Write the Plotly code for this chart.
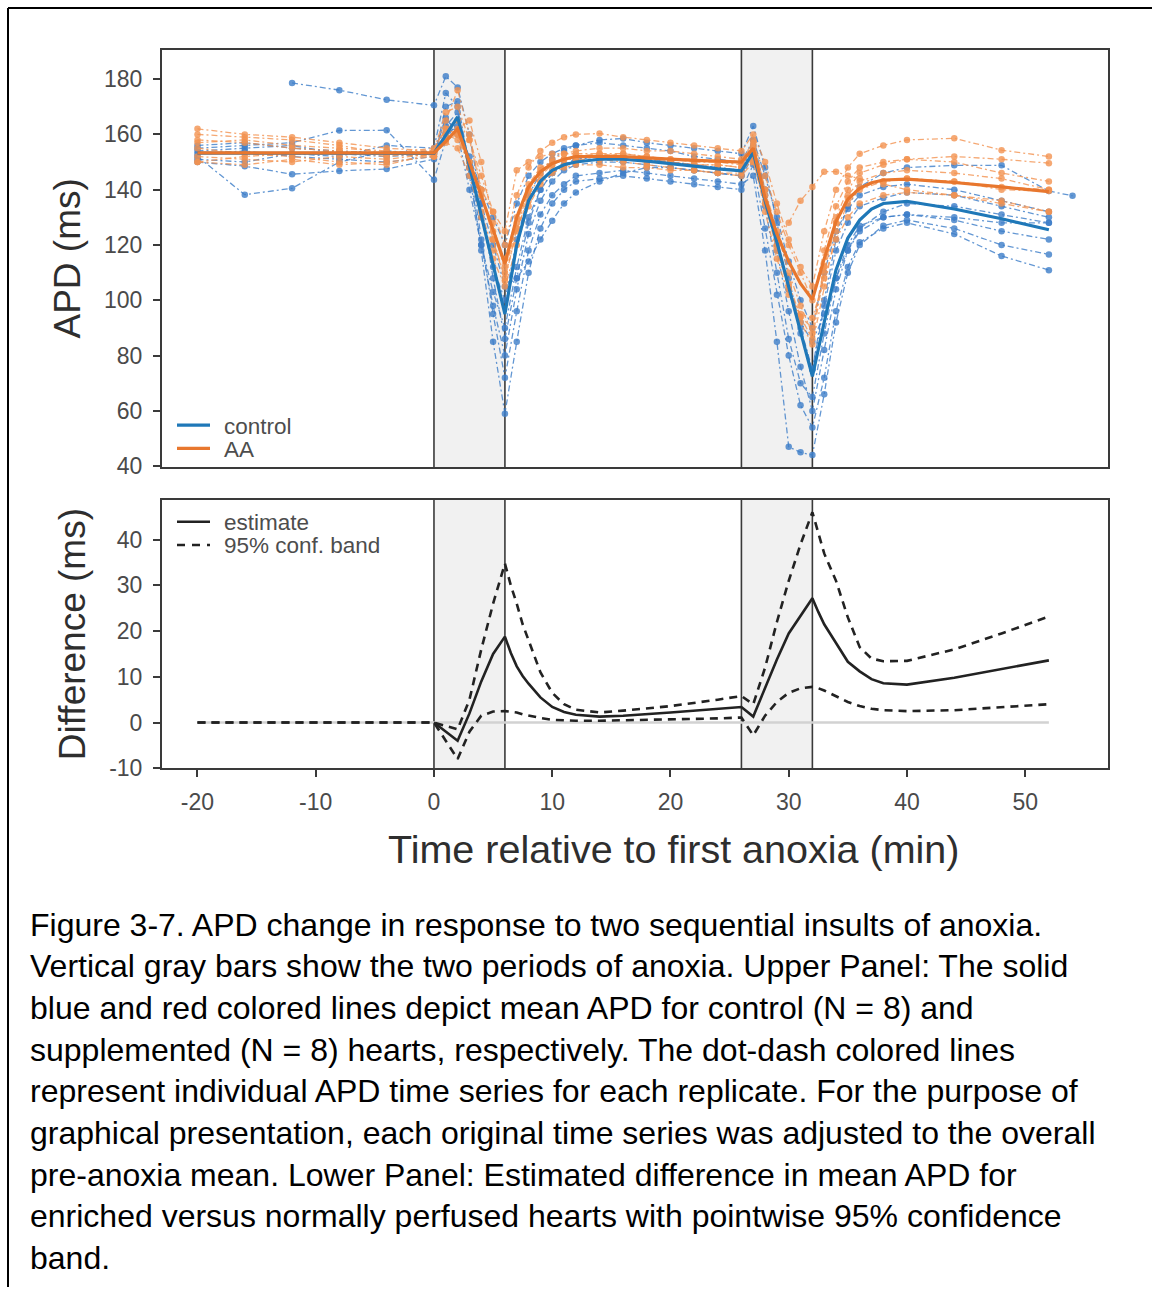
import plotly.graph_objects as go

# ---------------- data ----------------
# individual replicate time grid (min)
t_ind = [-20, -16, -12, -8, -4, 0, 1, 2, 3, 4, 5, 6, 7, 8, 9, 10, 11, 12,
         14, 16, 18, 20, 22, 24, 26, 27, 28, 29, 30, 31, 32,
         33, 34, 35, 36, 38, 40, 44, 48, 52, 54]

ctrl_1 = [None, None, 178.6, 176.0, 172.5, 170.5, 181, 177, 160, 135, 108, 86, 108, 128, 140, 146, 149, 151,
          152, 152, 151, 150, 149, 148, 147, 158, 140, 118, 96, 76, 60, 82, 104, 118, 126, 132, 135, 134, 131, 128, None]
ctrl_2 = [152, 138.2, 140.5, 150, 154, 153, 163, 168, 150, 122, 95, 72, 96, 118, 131, 138, 142, 145,
          146, 147, 146, 145, 144, 143, 142, 145, 118, 85, 47, 45, 44, 66, 92, 110, 120, 127, 129, 126, 120, 116.6, None]
ctrl_3 = [150, 148.5, 145.6, 146.8, 147.5, 151, 170, 172, 148, 118, 85, 59, 85, 110, 126, 135, 140, 143,
          144, 145, 144, 143, 142, 141, 140, 149, 126, 102, 80, 62, 54, 72, 96, 112, 121, 126, 128, 124, 116, 110.9, None]
ctrl_4 = [155, 156, 157, 161.4, 161.5, 143.6, 158, 165, 148, 130, 112, 100, 122, 138, 146, 151, 154, 156,
          158, 158.5, 157, 156, 155, 154, 153, 163, 148, 128, 108, 90, 75, 100, 122, 134, 141, 146, 148, 148.8, 148.8, 139.5, 137.8]
ctrl_5 = [153, 154, 152, 151, 150, 152, 160, 163, 150, 135, 120, 105, 108, 114, 122, 128.8, 135, 139,
          143, 146, 148, 148, 147, 146, 145, 152, 138, 120, 104, 92, 85, 95, 108, 118, 125, 130, 131, 130, 128, 128, None]
ctrl_6 = [156, 157, 155, 154, 153, 154, 165, 162, 152, 140, 130, 120, 135, 145, 150, 153, 155, 156,
          157, 156, 155, 154, 152, 151, 150, 158, 145, 130, 114, 100, 90, 110, 125, 133, 138, 141, 142, 140, 136, 132, None]
ctrl_7 = [151, 150, 153, 152, 156, 155, 175, 170, 145, 120, 98, 80, 104, 124, 136, 143, 147, 149,
          150, 150, 149, 148, 147, 146, 145, 155, 134, 110, 86, 70, 65, 88, 108, 120, 127, 130, 131, 129, 125, 122, None]
ctrl_8 = [154, 155, 156, 153, 152, 153, 166, 160, 140, 120, 103, 90, 112, 130, 140, 146, 149, 151,
          152, 152, 151, 150, 149, 148, 147, 156, 140, 122, 104, 88, 75, 98, 118, 128, 134, 137, 139, 138, 134, 130, None]

aa_1 = [162, 160, 159, 157, 155, 154, 162, 165, 158, 145, 132, 120, 138, 148, 154, 157, 159, 160,
        160.3, 159, 158, 157, 156, 155, 154, 160, 150, 135, 122, 112, 105, 125, 140, 148, 153, 156, 158, 158.6, 154.3, 152, None]
aa_2 = [157, 158, 156, 155, 154, 152, 158, 162, 165, 150, 128, 110, 128, 140, 146, 149, 151, 152,
        153, 153, 152, 151, 151, 150, 150, 156, 140, 125, 110, 98, 88, 112, 130, 140, 146, 149, 151, 152, 151, 149.6, None]
aa_3 = [150, 152, 153, 154, 153, 152, 160, 158, 150, 140, 132, 125, 147, 150, 152, 153, 153, 153,
        153, 152, 151, 150, 149, 149, 148, 150, 135, 122, 128, 136, 141, 146.5, 146.5, 145, 144, 142, 140, 138, 136, 132, None]
aa_4 = [155, 153, 152, 150, 149, 153, 165, 176, 160, 140, 122, 108, 125, 138, 145, 149, 151, 152,
        152, 153, 152, 151, 150, 150, 149, 158, 140, 122, 106, 94, 86, 110, 128, 138, 143, 146, 147, 146, 144, 140, None]
aa_5 = [160, 159, 158, 156, 153, 155, 162, 160, 150, 138, 125, 112, 126, 136, 143, 147, 149, 150,
        151, 151, 150, 150, 149, 149, 148, 155, 138, 120, 105, 92, 84, 105, 125, 135, 140, 143, 144, 143, 140, 139.5, None]
aa_6 = [152, 151, 150, 152, 151, 153, 157, 155, 145, 130, 115, 105, 120, 134, 142, 146, 148, 149,
        149, 148, 148, 147, 147, 146, 146, 152, 132, 115, 102, 95, 93.6, 108, 122, 130, 135, 138, 139, 138, 135, 132, None]
aa_7 = [158, 157, 155, 154, 152, 154, 168, 170, 158, 140, 122, 107, 126, 140, 147, 151, 153, 154,
        155, 155, 154, 154, 153, 152, 151, 157, 145, 132, 120, 110, 100, 118, 134, 143, 148, 150, 151, 150, 146, 143, None]
aa_8 = [150, 149, 151, 149, 150, 152, 158, 160, 148, 132, 118, 115, 130, 142, 148, 150, 151, 151,
        151, 150, 149, 148, 147, 146, 145, 150, 135, 118, 104, 94, 90, 112, 128, 137, 141, 143, 144, 143, 141, 140, None]

control_series = [ctrl_1, ctrl_2, ctrl_3, ctrl_4, ctrl_5, ctrl_6, ctrl_7, ctrl_8]
aa_series = [aa_1, aa_2, aa_3, aa_4, aa_5, aa_6, aa_7, aa_8]

# mean APD curves
t_mean = [-20, -16, -12, -8, -4, 0, 1, 2, 3, 4, 5, 6, 7, 8, 9, 10, 11, 12,
          14, 16, 18, 20, 22, 24, 26, 27, 28, 29, 30, 31, 32,
          33, 34, 35, 36, 37, 38, 40, 42, 44, 48, 52]
ctrl_mean = [153.2, 153.2, 153.2, 153.1, 153.1, 153.1, 159.7, 166.3, 148.5, 130.7, 112.9, 95,
             120, 136, 143, 147, 149, 150,
             151, 151, 150.3, 149.5, 148.5, 147.5, 146.8, 153.5, 136, 121, 105, 89, 72.5,
             92, 111, 122.5, 129, 133, 135, 135.8, 134.5, 133, 129.5, 125.5]
aa_mean = [153.3, 153.3, 153.3, 153.3, 153.3, 153.3, 157.5, 162, 150, 138, 125.5, 113.2,
           130, 141, 146.5, 149.5, 151, 152,
           152, 152, 151.5, 151, 150.6, 150.3, 150, 155, 137, 124, 114, 106, 100.3,
           115, 128.5, 136.5, 140.5, 142.5, 143.5, 143.8, 143.2, 142.6, 141, 139.3]

# difference (AA - control) with pointwise 95% band
t_diff = [-20, -16, -12, -8, -4, 0, 2, 3, 4, 5, 6, 6.5, 7, 7.5, 8, 9, 10, 11, 12,
          14, 16, 20, 24, 26, 27, 28, 29, 30, 31, 32,
          32.5, 33, 34, 35, 36, 37, 38, 40, 44, 48, 52]
diff_est = [None, None, None, None, None, 0, -4, 2, 9, 15, 18.8, 15.2, 12.3, 10.2, 8.5, 5.5, 3.4, 2.3, 1.7,
            1.3, 1.5, 2.2, 3, 3.4, 1.3, 7.5, 13.8, 19.5, 23.5, 27.2,
            24.2, 21.5, 17.4, 13.3, 11.2, 9.5, 8.6, 8.3, 9.8, 11.7, 13.6]
diff_upper = [0, 0, 0, 0, 0, 0, -1.5, 5, 16, 26, 34.8, 30, 26, 21.5, 18, 11, 6.5, 4, 2.8,
              2.2, 2.6, 3.6, 5, 5.8, 4, 12, 22, 31, 39, 46,
              41.5, 37, 31, 23, 16.5, 14, 13.4, 13.5, 16, 19.5, 23.2]
diff_lower = [0, 0, 0, 0, 0, 0, -8, -2, 1.5, 2.4, 2.5, 2.4, 2.2, 1.8, 1.5, 1, 0.6, 0.5, 0.4,
              0.4, 0.5, 0.6, 0.9, 1.1, -2.8, 1.5, 4.5, 6.5, 7.5, 7.8,
              7.5, 7, 5.8, 4.5, 3.6, 3, 2.7, 2.5, 2.7, 3.3, 4]

anoxia_start = [0, 26]
anoxia_end = [6, 32]

x_ticks = [-20, -10, 0, 10, 20, 30, 40, 50]
x_tick_labels = ["-20", "-10", "0", "10", "20", "30", "40", "50"]
apd_ticks = [40, 60, 80, 100, 120, 140, 160, 180]
diff_ticks = [-10, 0, 10, 20, 30, 40]
diff_tick_labels = ["-10", "0", "10", "20", "30", "40"]

caption_lines = [
    "Figure 3-7. APD change in response to two sequential insults of anoxia.",
    "Vertical gray bars show the two periods of anoxia. Upper Panel: The solid",
    "blue and red colored lines depict mean APD for control (N = 8) and",
    "supplemented (N = 8) hearts, respectively. The dot-dash colored lines",
    "represent individual APD time series for each replicate. For the purpose of",
    "graphical presentation, each original time series was adjusted to the overall",
    "pre-anoxia mean. Lower Panel: Estimated difference in mean APD for",
    "enriched versus normally perfused hearts with pointwise 95% confidence",
    "band.",
]

for s in control_series + aa_series:
    assert len(s) == len(t_ind)
assert len(ctrl_mean) == len(t_mean) and len(aa_mean) == len(t_mean)
assert len(diff_est) == len(t_diff) == len(diff_upper) == len(diff_lower)

# ---------------- styling ----------------
FONT = "Liberation Sans, Arial, Helvetica, sans-serif"
W, H = 1152, 1300
BLUE = "#1f78b8"
ORANGE = "#e8772e"
BLUE_I = "rgba(60,125,200,0.80)"
ORANGE_I = "rgba(242,146,80,0.80)"
FRAME = "#3a3a3a"
DARK = "#222222"


def px(xp):
    return xp / W


def py(yp):
    return 1 - yp / H


fig = go.Figure()

# individual replicates
for s in control_series:
    fig.add_trace(go.Scatter(x=t_ind, y=s, mode="lines+markers", xaxis="x", yaxis="y",
                             line=dict(color=BLUE_I, width=1.3, dash="6px,3px,2px,3px"),
                             marker=dict(size=6.5, color=BLUE_I), showlegend=False,
                             connectgaps=False, hoverinfo="skip"))
for s in aa_series:
    fig.add_trace(go.Scatter(x=t_ind, y=s, mode="lines+markers", xaxis="x", yaxis="y",
                             line=dict(color=ORANGE_I, width=1.3, dash="6px,3px,2px,3px"),
                             marker=dict(size=6.5, color=ORANGE_I), showlegend=False,
                             connectgaps=False, hoverinfo="skip"))

# means
fig.add_trace(go.Scatter(x=t_mean, y=ctrl_mean, mode="lines", name="control", xaxis="x", yaxis="y",
                         line=dict(color=BLUE, width=3.2), showlegend=False))
fig.add_trace(go.Scatter(x=t_mean, y=aa_mean, mode="lines", name="AA", xaxis="x", yaxis="y",
                         line=dict(color=ORANGE, width=3.2), showlegend=False))

# difference panel
fig.add_trace(go.Scatter(x=[t_diff[0], t_diff[-1]], y=[0, 0], mode="lines", xaxis="x2", yaxis="y2",
                         line=dict(color="#d2d2d2", width=2.4), showlegend=False, hoverinfo="skip"))
fig.add_trace(go.Scatter(x=t_diff, y=diff_upper, mode="lines", name="95% conf. band", xaxis="x2", yaxis="y2",
                         line=dict(color=DARK, width=2.6, dash="8px,6px"), showlegend=False))
fig.add_trace(go.Scatter(x=t_diff, y=diff_lower, mode="lines", name="95% conf. band", xaxis="x2", yaxis="y2",
                         line=dict(color=DARK, width=2.6, dash="8px,6px"), showlegend=False))
fig.add_trace(go.Scatter(x=t_diff, y=diff_est, mode="lines", name="estimate", xaxis="x2", yaxis="y2",
                         line=dict(color=DARK, width=2.6), showlegend=False, connectgaps=False))

# anoxia shading + boundary lines in both panels
shapes = []
for xr, yr in (("x", "y domain"), ("x2", "y2 domain")):
    for a, b in zip(anoxia_start, anoxia_end):
        shapes.append(dict(type="rect", xref=xr, yref=yr, x0=a, x1=b, y0=0, y1=1,
                           fillcolor="#f1f1f1", line=dict(width=0), layer="below"))
        for xv in (a, b):
            shapes.append(dict(type="line", xref=xr, yref=yr, x0=xv, x1=xv, y0=0, y1=1,
                               line=dict(color=FRAME, width=1.6), layer="below"))

# outer figure frame (top and left edges)
shapes.append(dict(type="line", xref="paper", yref="paper", x0=px(8), x1=1.0, y0=py(8), y1=py(8),
                   line=dict(color="black", width=2)))
shapes.append(dict(type="line", xref="paper", yref="paper", x0=px(8), x1=px(8), y0=py(8), y1=0,
                   line=dict(color="black", width=2)))

annotations = []

# legend keys (upper and lower panel)
legend_items = [
    ("control", BLUE, 3.2, "solid", 429.5),
    ("AA", ORANGE, 3.2, "solid", 453),
    ("estimate", DARK, 2.6, "solid", 527),
    ("95% conf. band", DARK, 2.6, "8px,7px", 550.5),
]
for label, col, lw, dash, yk in legend_items:
    shapes.append(dict(type="line", xref="paper", yref="paper", x0=px(177), x1=px(210),
                       y0=py(yk), y1=py(yk), line=dict(color=col, width=lw, dash=dash)))
    annotations.append(dict(xref="paper", yref="paper", x=px(222), y=py(yk + 1), xanchor="left",
                            yanchor="middle", showarrow=False, text=label,
                            font=dict(family=FONT, size=22.5, color="#4d4d4d")))

# x-axis title
annotations.append(dict(xref="paper", yref="paper", x=px(673), y=py(858), xanchor="center",
                        yanchor="middle", showarrow=False, text="Time relative to first anoxia (min)",
                        font=dict(family=FONT, size=39.5, color="#2e2e2e")))

# caption
for i, line in enumerate(caption_lines):
    yc = 934 + i * 42.1
    annotations.append(dict(xref="paper", yref="paper", x=px(28), y=py(yc),
                            xanchor="left", yanchor="middle", showarrow=False, text=line,
                            font=dict(family=FONT, size=32, color="black")))

x_dom = [px(162), px(1108)]
axis_common = dict(showline=True, mirror=True, linecolor=FRAME, linewidth=2,
                   showgrid=False, zeroline=False)
tickfont = dict(family=FONT, size=23, color="#4a4a4a")

fig.update_layout(
    width=W, height=H,
    margin=dict(l=0, r=0, t=0, b=0),
    paper_bgcolor="white", plot_bgcolor="white",
    font=dict(family=FONT),
    shapes=shapes, annotations=annotations,
    showlegend=False,
    xaxis=dict(domain=x_dom, anchor="y", range=[-23, 57], showticklabels=False, ticks="",
               matches="x2", **axis_common),
    yaxis=dict(domain=[py(472), py(50)], anchor="x", range=[39.6, 190.7],
               tickvals=apd_ticks, ticks="outside", ticklen=7, tickwidth=1.5, tickcolor=FRAME,
               tickfont=tickfont, ticklabelstandoff=6,
               title=dict(text="APD (ms)", font=dict(family=FONT, size=37, color="#2e2e2e"), standoff=12),
               **axis_common),
    xaxis2=dict(domain=x_dom, anchor="y2", range=[-23, 57], tickvals=x_ticks, ticktext=x_tick_labels,
                ticks="outside", ticklen=7, tickwidth=1.5, tickcolor=FRAME, tickfont=tickfont,
                ticklabelstandoff=5, **axis_common),
    yaxis2=dict(domain=[py(776), py(505)], anchor="x2", range=[-10, 48.7],
                tickvals=diff_ticks, ticktext=diff_tick_labels, ticks="outside", ticklen=7,
                tickwidth=1.5, tickcolor=FRAME, tickfont=tickfont, ticklabelstandoff=6,
                title=dict(text="Difference (ms)", font=dict(family=FONT, size=37, color="#2e2e2e"),
                           standoff=12),
                **axis_common),
)

fig.write_html("out.html")
